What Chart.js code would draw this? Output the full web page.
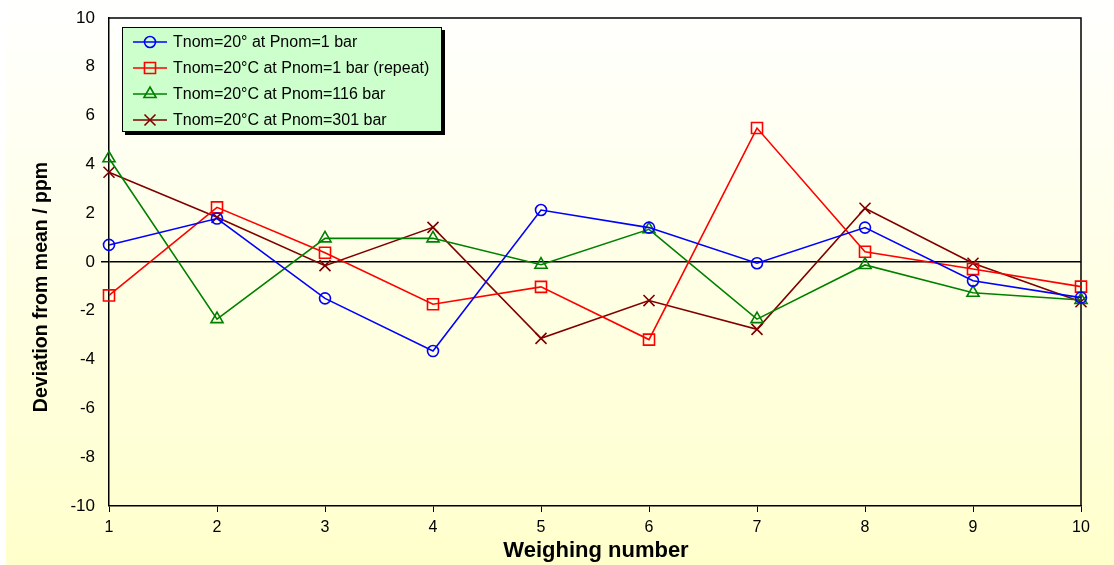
<!DOCTYPE html>
<html>
<head>
<meta charset="utf-8">
<script src="https://cdn.jsdelivr.net/npm/chart.js@4/dist/chart.umd.min.js"></script>
<style>
  html, body { margin: 0; padding: 0; background: #ffffff; }
  canvas { display: block; }
</style>
</head>
<body>
<canvas id="c" width="1114" height="565"></canvas>
<script>
// Weighing runs and deviations from the mean (ppm)
const weighings = ['1', '2', '3', '4', '5', '6', '7', '8', '9', '10'];
const seriesNames = [
  'Tnom=20\u00b0 at Pnom=1 bar',
  'Tnom=20\u00b0C at Pnom=1 bar (repeat)',
  'Tnom=20\u00b0C at Pnom=116 bar',
  'Tnom=20\u00b0C at Pnom=301 bar'
];
const run1bar       = [0.70, 1.78, -1.49, -3.65, 2.13, 1.41, -0.05, 1.41, -0.77, -1.46];
const run1barRepeat = [-1.37, 2.24, 0.38, -1.73, -1.02, -3.18, 5.49, 0.42, -0.29, -1.01];
const run116bar     = [4.25, -2.34, 0.97, 0.97, -0.11, 1.34, -2.34, -0.12, -1.26, -1.56];
const run301bar     = [3.68, 1.83, -0.15, 1.42, -3.13, -1.58, -2.76, 2.20, -0.05, -1.63];
const yTicks = [-10, -8, -6, -4, -2, 0, 2, 4, 6, 8, 10];

const FONT = '"Liberation Sans", Arial, Helvetica, sans-serif';

function series(label, data, color, style, radius) {
  return {
    label, data,
    borderColor: color,
    borderWidth: 1.6,
    pointStyle: style,
    pointRadius: radius,
    pointHoverRadius: radius,
    pointBorderWidth: 1.6,
    pointBorderColor: color,
    pointBackgroundColor: 'rgba(0,0,0,0)',
    tension: 0,
    fill: false
  };
}

const datasets = [
  series(seriesNames[0], run1bar, '#0000ff', 'circle', 5.5),
  series(seriesNames[1], run1barRepeat, '#ff0000', 'rect', 7.8),
  series(seriesNames[2], run116bar, '#008000', 'triangle', 7),
  series(seriesNames[3], run301bar, '#800000', 'crossRot', 7.8)
];

// Page background: soft vertical white-to-cream wash
const backdrop = {
  id: 'backdrop',
  beforeDraw(chart) {
    const { ctx, width, height } = chart;
    ctx.save();
    ctx.fillStyle = '#ffffff';
    ctx.fillRect(0, 0, width, height);
    const g = ctx.createLinearGradient(0, 0, 0, height);
    g.addColorStop(0, '#ffffff');
    g.addColorStop(1, '#ffffcc');
    ctx.fillStyle = g;
    ctx.fillRect(6, 0, width - 6, height);
    ctx.restore();
  }
};

// Top and right edges of the plot frame
const frame = {
  id: 'frame',
  beforeDatasetsDraw(chart) {
    const { ctx, chartArea: a } = chart;
    ctx.save();
    ctx.strokeStyle = '#000000';
    ctx.lineWidth = 1.5;
    ctx.beginPath();
    ctx.moveTo(a.left, a.top);
    ctx.lineTo(a.right, a.top);
    ctx.lineTo(a.right, a.bottom);
    ctx.stroke();
    ctx.restore();
  }
};

function drawMarker(ctx, style, x, y, r) {
  ctx.beginPath();
  if (style === 'circle') {
    ctx.arc(x, y, r, 0, Math.PI * 2);
  } else if (style === 'rect') {
    const s = r * Math.SQRT1_2;
    ctx.rect(x - s, y - s, 2 * s, 2 * s);
  } else if (style === 'triangle') {
    ctx.moveTo(x, y - r);
    ctx.lineTo(x + r * Math.sin(2 * Math.PI / 3), y - r * Math.cos(2 * Math.PI / 3));
    ctx.lineTo(x + r * Math.sin(4 * Math.PI / 3), y - r * Math.cos(4 * Math.PI / 3));
    ctx.closePath();
  } else if (style === 'crossRot') {
    const o = r * Math.SQRT1_2;
    ctx.moveTo(x - o, y - o); ctx.lineTo(x + o, y + o);
    ctx.moveTo(x - o, y + o); ctx.lineTo(x + o, y - o);
  }
  ctx.stroke();
}

// Boxed legend with drop shadow, plus both axis titles
const decorations = {
  id: 'decorations',
  afterDraw(chart) {
    const { ctx } = chart;
    ctx.save();
    const bx = 122, by = 27, bw = 320, bh = 105;
    ctx.fillStyle = '#000000';
    ctx.fillRect(bx + 3, by + 3, bw, bh);
    ctx.fillStyle = '#ccffcc';
    ctx.fillRect(bx, by, bw, bh);
    ctx.strokeStyle = '#000000';
    ctx.lineWidth = 1;
    ctx.strokeRect(bx + 0.5, by + 0.5, bw - 1, bh - 1);

    ctx.font = '16px ' + FONT;
    ctx.textBaseline = 'middle';
    ctx.textAlign = 'left';
    chart.data.datasets.forEach((ds, i) => {
      const y = 42 + i * 26;
      ctx.strokeStyle = ds.borderColor;
      ctx.lineWidth = 1.6;
      ctx.beginPath();
      ctx.moveTo(133, y);
      ctx.lineTo(167, y);
      ctx.stroke();
      drawMarker(ctx, ds.pointStyle, 150, y, ds.pointRadius);
      ctx.fillStyle = '#000000';
      ctx.fillText(ds.label, 173, y + 1);
    });

    // Axis titles
    ctx.fillStyle = '#000000';
    ctx.textAlign = 'center';
    ctx.textBaseline = 'middle';
    ctx.font = 'bold 22px ' + FONT;
    ctx.fillText('Weighing number', 596, 551);
    ctx.translate(42, 287);
    ctx.rotate(-Math.PI / 2);
    ctx.font = 'bold 19.5px ' + FONT;
    ctx.fillText('Deviation from mean / ppm', 0, 0);
    ctx.restore();
  }
};

new Chart(document.getElementById('c'), {
  type: 'line',
  data: { labels: weighings, datasets },
  plugins: [backdrop, frame, decorations],
  options: {
    responsive: false,
    animation: false,
    devicePixelRatio: 1,
    layout: { padding: { top: 18, right: 33, left: 0, bottom: 0 } },
    plugins: {
      legend: { display: false },
      tooltip: { enabled: false }
    },
    scales: {
      x: {
        type: 'category',
        offset: false,
        afterFit(scale) { scale.height = 59; },
        border: { display: true, color: '#000000', width: 1.5 },
        grid: {
          display: true,
          drawOnChartArea: false,
          drawTicks: true,
          tickLength: 6,
          tickColor: '#000000',
          tickWidth: 1
        },
        ticks: {
          color: '#000000',
          padding: 6,
          maxRotation: 0,
          autoSkip: false,
          font: { family: FONT, size: 16 }
        }
      },
      y: {
        type: 'linear',
        min: -10,
        max: 10,
        afterFit(scale) { scale.width = 109; },
        afterBuildTicks(scale) { scale.ticks = yTicks.map(v => ({ value: v })); },
        border: { display: true, color: '#000000', width: 1.5 },
        grid: {
          display: true,
          drawOnChartArea: true,
          drawTicks: true,
          tickLength: 8,
          tickColor: '#000000',
          color: (c) => (c.tick && c.tick.value === 0 ? '#000000' : 'rgba(0,0,0,0)'),
          lineWidth: (c) => (c.tick && c.tick.value === 0 ? 1.5 : 0)
        },
        ticks: {
          color: '#000000',
          padding: 6,
          font: { family: FONT, size: 17 }
        }
      }
    }
  }
});
</script>
</body>
</html>
